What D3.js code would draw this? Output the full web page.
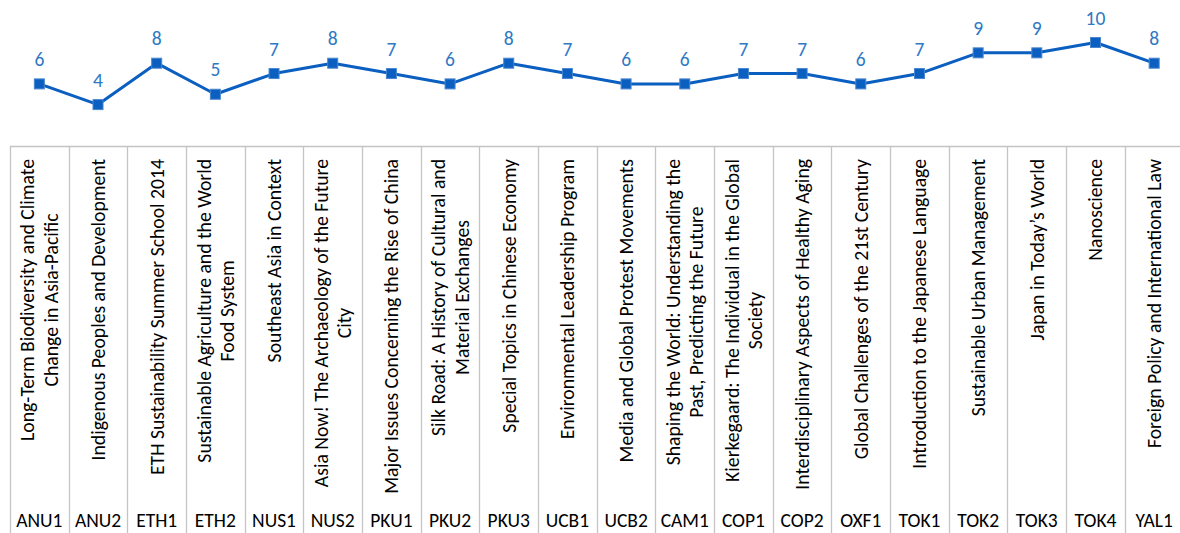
<!DOCTYPE html>
<html>
<head>
<meta charset="utf-8">
<script src="https://cdn.jsdelivr.net/npm/d3@7"></script>
<style>
  body { margin: 0; background: #fff; }
  svg { display: block; font-family: Carlito, Calibri, "Open Sans", sans-serif; }
</style>
</head>
<body>
<svg id="chart"></svg>
<script>
const codes = ["ANU1", "ANU2", "ETH1", "ETH2", "NUS1", "NUS2", "PKU1", "PKU2", "PKU3", "UCB1",
               "UCB2", "CAM1", "COP1", "COP2", "OXF1", "TOK1", "TOK2", "TOK3", "TOK4", "YAL1"];

const courseNames = [
    ["Long-Term Biodiversity and Climate", "Change in Asia-Pacific"],
    ["Indigenous Peoples and Development"],
    ["ETH Sustainability Summer School 2014"],
    ["Sustainable Agriculture and the World", "Food System"],
    ["Southeast Asia in Context"],
    ["Asia Now! The Archaeology of the Future", "City"],
    ["Major Issues Concerning the Rise of China"],
    ["Silk Road: A History of Cultural and", "Material Exchanges"],
    ["Special Topics in Chinese Economy"],
    ["Environmental Leadership Program"],
    ["Media and Global Protest Movements"],
    ["Shaping the World: Understanding the", "Past, Predicting the Future"],
    ["Kierkegaard: The Individual in the Global", "Society"],
    ["Interdisciplinary Aspects of Healthy Aging"],
    ["Global Challenges of the 21st Century"],
    ["Introduction to the Japanese Language"],
    ["Sustainable Urban Management"],
    ["Japan in Today\u2019s World"],
    ["Nanoscience"],
    ["Foreign Policy and International Law"]
];

const values = [6, 4, 8, 5, 7, 8, 7, 6, 8, 7, 6, 6, 7, 7, 6, 7, 9, 9, 10, 8];

const width = 1180, height = 533;
const axisY = 146;

const svg = d3.select("#chart")
    .attr("width", width)
    .attr("height", height);

const x = d3.scaleBand()
    .domain(codes)
    .range([10, 1183.5]);

const y = d3.scaleLinear()
    .domain([0, 10])
    .range([axisY, 42.5]);

const gridColor = "#c4c4c4";

// category table lines
svg.append("line")
    .attr("x1", x.range()[0]).attr("x2", width)
    .attr("y1", axisY + 0.5).attr("y2", axisY + 0.5)
    .attr("stroke", gridColor).attr("stroke-width", 1.3);

svg.append("g")
    .selectAll("line")
    .data(codes)
    .enter().append("line")
    .attr("x1", d => Math.round(x(d)) + 0.5)
    .attr("x2", d => Math.round(x(d)) + 0.5)
    .attr("y1", axisY)
    .attr("y2", height)
    .attr("stroke", gridColor)
    .attr("stroke-width", 1.3);

// course names, rotated, top aligned, lines centered on each other
const nameTop = 159;
const nameGroups = svg.append("g")
    .selectAll("text")
    .data(codes)
    .enter().append("text")
    .style("font-size", "19.7px")
    .attr("fill", "#000");

nameGroups.each(function(d, i) {
    const lines = courseNames[i];
    const t = d3.select(this);
    lines.forEach(line => t.append("tspan").text(line));
    const lens = [];
    t.selectAll("tspan").each(function() { lens.push(this.getComputedTextLength()); });
    const maxLen = d3.max(lens);
    const cy = nameTop + maxLen / 2;
    const cx = x(d) + x.bandwidth() / 2;
    const lh = 23.5;
    const offset0 = -(lines.length - 1) * lh / 2;
    t.attr("transform", `translate(${cx},${cy}) rotate(-90)`)
        .attr("text-anchor", "middle");
    t.selectAll("tspan")
        .attr("x", 0)
        .attr("y", (_, j) => offset0 + j * lh)
        .attr("dy", "0.35em");
});

// codes
svg.append("g")
    .selectAll("text")
    .data(codes)
    .enter().append("text")
    .attr("x", d => x(d) + x.bandwidth() / 2)
    .attr("y", 527)
    .attr("text-anchor", "middle")
    .style("font-size", "19.5px")
    .attr("fill", "#000")
    .text(d => d);

// series
const pts = codes.map((c, i) => ({ code: c, value: values[i] }));
const lineColor = "#0a5fc0";

svg.append("path")
    .datum(pts)
    .attr("fill", "none")
    .attr("stroke", lineColor)
    .attr("stroke-width", 3)
    .attr("stroke-linejoin", "round")
    .attr("d", d3.line()
        .x(d => x(d.code) + x.bandwidth() / 2)
        .y(d => y(d.value)));

svg.append("g")
    .selectAll("rect")
    .data(pts)
    .enter().append("rect")
    .attr("x", d => x(d.code) + x.bandwidth() / 2 - 5)
    .attr("y", d => y(d.value) - 5)
    .attr("width", 10)
    .attr("height", 10)
    .attr("fill", lineColor)
    .attr("stroke", "#4a86cf")
    .attr("stroke-width", 1);

svg.append("g")
    .selectAll("text")
    .data(pts)
    .enter().append("text")
    .attr("x", d => x(d.code) + x.bandwidth() / 2)
    .attr("y", d => y(d.value) - 18)
    .attr("text-anchor", "middle")
    .style("font-size", "19.5px")
    .attr("fill", "#2f78c4")
    .text(d => d.value);
</script>
</body>
</html>
